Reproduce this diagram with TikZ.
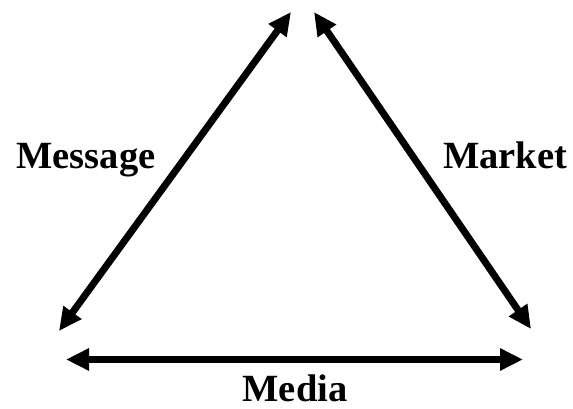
\documentclass[tikz,border=0pt]{standalone}
\usepackage{fontspec}
\setmainfont{Liberation Serif}
\usetikzlibrary{arrows.meta}

\tikzset{
  link/.style={line width=7pt, {Triangle[length=23pt,width=21pt]}-{Triangle[length=23pt,width=21pt]}},
  mlabel/.style={font=\fontsize{38.5}{40}\selectfont\bfseries, inner sep=0pt, anchor=base}
}

\begin{document}
\begin{tikzpicture}[x=1pt,y=1pt]
  \useasboundingbox (0,0) rectangle (573,409);

  % ===== ends of the arrows =====
  \coordinate (apexL) at (291,397);
  \coordinate (apexR) at (314,397);
  \coordinate (baseL) at (59,78);
  \coordinate (baseR) at (531,80);
  \coordinate (mediaL) at (66,49.5);
  \coordinate (mediaR) at (523,49.5);

  % ===== arrows =====
  \draw[link] (baseL) -- (apexL);
  \draw[link] (apexR) -- (baseR);
  \draw[link] (mediaL) -- (mediaR);

  % ===== labels =====
  \node[mlabel] (message) at (86,240) {Message};
  \node[mlabel] (market) at (505,240) {Market};
  \node[mlabel] (media) at (295,7) {Media};
\end{tikzpicture}
\end{document}
